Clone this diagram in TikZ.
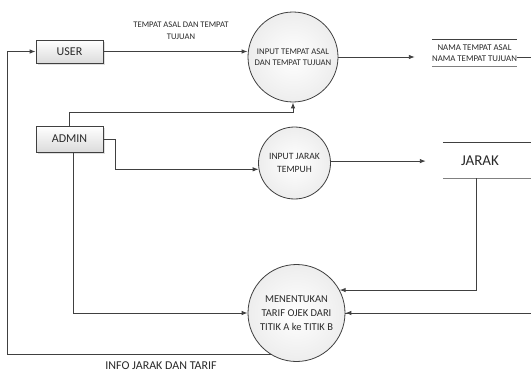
\documentclass[tikz,border=0pt]{standalone}
\usepackage{fontspec}
\setmainfont{Carlito}
\usetikzlibrary{arrows.meta,shadows}
\definecolor{ln}{HTML}{404040}
\definecolor{tx}{HTML}{2A2A2A}
\tikzset{
  arr/.style={draw=ln, line width=0.9pt, -{Latex[length=6pt,width=4.5pt]}},
  conn/.style={draw=ln, line width=0.9pt},
  entity/.style={draw=ln, line width=0.8pt, top color=white, bottom color=gray!28,
    drop shadow={shadow xshift=1.5pt, shadow yshift=-1.5pt, opacity=0.25},
    minimum width=67pt, text=tx, font=\fontsize{12}{14}\selectfont},
  proc/.style={circle, draw=ln, line width=0.8pt, inner color=white, outer color=gray!14,
    align=center, text=tx, inner sep=0pt},
  storebox/.style={minimum width=#1, minimum height=26pt, inner sep=0pt},
  lbl/.style={text=tx, align=center, inner sep=0pt},
}
\begin{document}
\begin{tikzpicture}[x=1pt,y=-1pt]
\useasboundingbox (0,0) rectangle (531,372);
\clip (0,0) rectangle (531,372);
\fill[white] (0,0) rectangle (531,372);

% entities
\node[entity, minimum height=23pt] (user) at (69.5,51.5) {USER};
\node[entity, minimum height=26pt] (admin) at (69.5,139) {ADMIN};

% processes
\node[proc, minimum size=90pt, font=\fontsize{8.7}{11}\selectfont] (p1) at (293,57) {INPUT TEMPAT ASAL\\DAN TEMPAT TUJUAN};
\node[proc, minimum size=72pt, font=\fontsize{9.6}{12.5}\selectfont] (p2) at (294.5,163) {INPUT JARAK\\TEMPUH};
\node[proc, minimum size=97pt, font=\fontsize{10.5}{14}\selectfont] (p3) at (296.5,313) {MENENTUKAN\\TARIF OJEK DARI\\TITIK A ke TITIK B};

% data stores
\node[storebox=85pt] (s1) at (474.5,53) {};
\node[lbl, font=\fontsize{8.8}{11}\selectfont] (s1t) at (s1) {NAMA TEMPAT ASAL\\NAMA TEMPAT TUJUAN};
\draw[draw=ln, line width=0.9pt] (s1.north west) -- (s1.north east);
\draw[draw=gray, line width=1.3pt] (s1.south west) -- (s1.south east);

\node[storebox=70pt, minimum height=35pt] (s2) at (478,160.5) {};
\node[lbl, font=\fontsize{15}{18}\selectfont] (s2t) at ([xshift=2pt]s2.center) {JARAK};
\draw[draw=ln, line width=0.9pt] (s2.north west) -- ++(100,0);
\draw[draw=gray, line width=1.3pt] (s2.south west) -- ++(100,0);

% connectors
\coordinate (lx) at (7,0);
\coordinate (rx) at (560,0);
\draw[arr] (user.east) -- (user.east -| p1.west);
\draw[arr] (p1.east) -- ([xshift=-17pt]s1.west |- p1.east);
\draw[conn] (s1.east |- p1.east) -- (rx |- p1.east) |- (p3.east);
\draw[arr] (rx |- p3.east) -- (p3.east);
\draw[arr] (admin.north) -- ++(0,-13) -| (p1.south);
\draw[arr] (admin.east) -- ++(12,0) |- (p2.190);
\draw[arr] (p2.3) -- ([xshift=-17pt]s2.west |- p2.3);
\draw[arr] ([xshift=-2pt]s2.south) |- (p3.28);
\draw[arr] ([xshift=4pt]admin.south) |- (p3.west);
\draw[arr] (p3.238) -- (p3.238 -| lx) |- (user.west);

% labels
\node[lbl, font=\fontsize{8.6}{12}\selectfont] (l1) at (181,31) {TEMPAT ASAL DAN TEMPAT\\TUJUAN};
\node[lbl, font=\fontsize{12}{14}\selectfont] (l2) at (161,366) {INFO JARAK DAN TARIF};
\end{tikzpicture}
\end{document}
